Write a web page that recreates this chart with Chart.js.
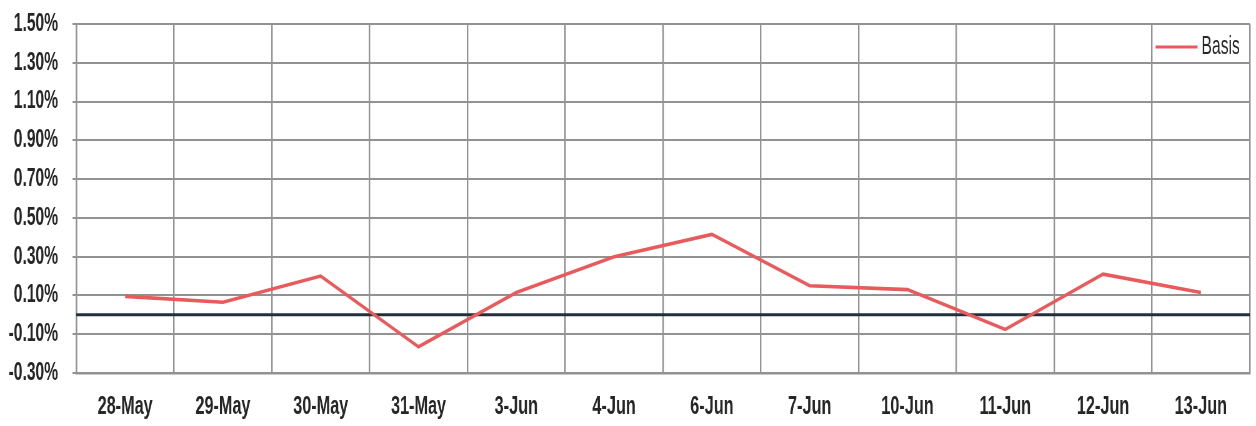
<!DOCTYPE html>
<html>
<head>
<meta charset="utf-8">
<script src="https://cdn.jsdelivr.net/npm/chart.js@4/dist/chart.umd.min.js"></script>
<style>
html,body{margin:0;padding:0;background:#fff;overflow:hidden;}
#wrap{width:1256px;height:426px;overflow:hidden;position:relative;}
#c{position:absolute;left:0;top:0;transform-origin:0 0;}
</style>
</head>
<body>
<div id="wrap"><canvas id="c"></canvas></div>
<script>
const categories = ["28-May","29-May","30-May","31-May","3-Jun","4-Jun","6-Jun","7-Jun","10-Jun","11-Jun","12-Jun","13-Jun"];
const basis = [0.095, 0.065, 0.20, -0.165, 0.115, 0.30, 0.415, 0.15, 0.13, -0.075, 0.21, 0.115];
const seriesLabel = "Basis";
const yMin = -0.3, yMax = 1.5, yStep = 0.2;

// the reference has narrow, tall lettering: draw wider, then squeeze horizontally
const K = 1.6;
const W = Math.round(1256 * K), H = 426;
const canvas = document.getElementById('c');
canvas.width = W; canvas.height = H;
canvas.style.width = W + 'px'; canvas.style.height = H + 'px';
canvas.style.transform = 'scaleX(' + (1256 / W) + ')';

const FONT = "'Liberation Sans', Arial, sans-serif";
const LINE_COLOR = "#e85a5c";
const GRID = "#929292";
const TEXT = "#262626";

const zeroLine = {
  id: 'zeroLine',
  beforeDatasetsDraw(chart) {
    const y = chart.scales.y.getPixelForValue(0);
    const a = chart.chartArea;
    const ctx = chart.ctx;
    ctx.save();
    ctx.strokeStyle = "#22303c";
    ctx.lineWidth = 3;
    ctx.beginPath();
    ctx.moveTo(a.left, y);
    ctx.lineTo(a.right, y);
    ctx.stroke();
    ctx.restore();
  }
};

const legendInArea = {
  id: 'legendInArea',
  afterDraw(chart) {
    const ds = chart.data.datasets[0];
    const a = chart.chartArea;
    const ctx = chart.ctx;
    ctx.save();
    ctx.font = "25px " + FONT;
    const tw = ctx.measureText(ds.label).width;
    const xText = a.right - 10 * K - tw;
    const y = a.top + 23;
    ctx.strokeStyle = ds.borderColor;
    ctx.lineWidth = 3;
    ctx.beginPath();
    ctx.moveTo(xText - 46 * K, y);
    ctx.lineTo(xText - 4 * K, y);
    ctx.stroke();
    ctx.fillStyle = TEXT;
    ctx.textBaseline = "middle";
    ctx.textAlign = "left";
    ctx.fillText(ds.label, xText, y);
    ctx.restore();
  }
};

new Chart(canvas, {
  type: 'line',
  data: {
    labels: categories,
    datasets: [{
      label: seriesLabel,
      data: basis,
      borderColor: LINE_COLOR,
      borderWidth: 3.6,
      pointRadius: 0,
      tension: 0,
      fill: false
    }]
  },
  options: {
    responsive: false,
    animation: false,
    devicePixelRatio: 1,
    layout: { padding: { top: 24, right: Math.round(6 * K), left: 0, bottom: 0 } },
    plugins: {
      legend: { display: false },
      tooltip: { enabled: false }
    },
    scales: {
      x: {
        offset: true,
        grid: { offset: true, color: GRID, lineWidth: 2.4, drawTicks: false },
        border: { color: GRID, width: 2.4 },
        ticks: { font: { family: FONT, size: 26, weight: 'bold' }, color: TEXT, padding: 18, maxRotation: 0, autoSkip: false },
        afterFit(s) { s.height = 53; }
      },
      y: {
        min: yMin, max: yMax,
        grid: { color: GRID, lineWidth: 2, tickLength: Math.round(4 * K) },
        border: { color: GRID, width: 2.4 },
        ticks: {
          stepSize: yStep,
          font: { family: FONT, size: 25, weight: 'bold' },
          color: TEXT,
          padding: Math.round(18 * K) - Math.round(4 * K),
          callback: v => v.toFixed(2) + "%"
        },
        afterFit(s) { s.width = Math.round(76 * K); s.paddingTop = 0; s.paddingBottom = 0; }
      }
    }
  },
  plugins: [zeroLine, legendInArea]
});
</script>
</body>
</html>
